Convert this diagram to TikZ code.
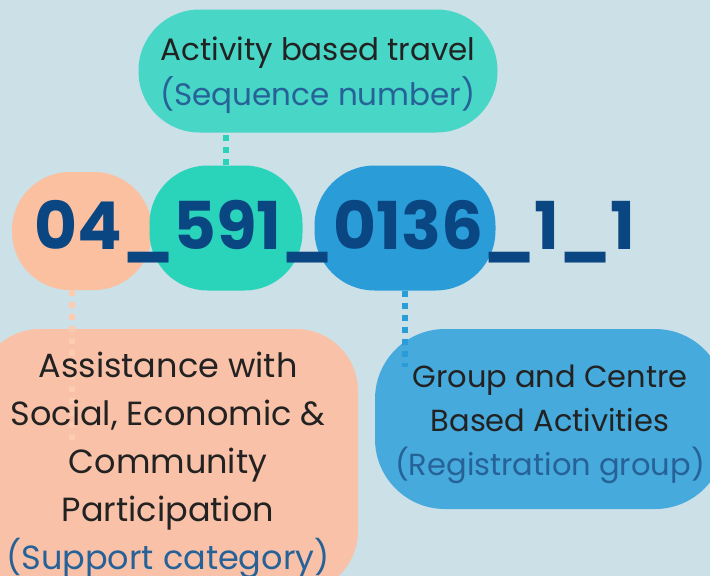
\documentclass[tikz,border=0pt]{standalone}
\usepackage{fontspec}
\setmainfont{Poppins}
\usepackage{xcolor}
\usetikzlibrary{positioning}
\definecolor{bgblue}{RGB}{204,224,232}
\definecolor{seqteal}{RGB}{72,214,198}
\definecolor{numteal}{RGB}{42,212,186}
\definecolor{catpeach}{RGB}{251,192,160}
\definecolor{catbox}{RGB}{249,194,168}
\definecolor{catdot}{RGB}{253,203,176}
\definecolor{regblue}{RGB}{42,157,216}
\definecolor{regbox}{RGB}{70,170,220}
\definecolor{navy}{RGB}{10,70,130}
\definecolor{inkdark}{RGB}{34,34,34}
\definecolor{parblue}{RGB}{38,98,152}

\begin{document}
\begin{tikzpicture}[x=1pt,y=-1pt,
		blob/.style={rectangle,inner sep=0pt},
		lbl/.style={align=center,text=inkdark,font=\fontsize{31}{45}\selectfont},
		dots/.style={line width=6pt,dash pattern=on 6pt off 6pt}]
	\useasboundingbox (0,0) rectangle (710,576);
	\clip (0,0) rectangle (710,576);
	\fill[bgblue] (0,0) rectangle (710,576);

	% top label
	\node[blob,fill=seqteal,minimum width=359pt,minimum height=123pt,rounded corners=61pt] (seq) at (318,71) {};
	\node[lbl] (seqtxt) at ([yshift=-4pt]seq.center) {Activity based travel\\\textcolor{parblue}{(Sequence number)}};

	% the three parts of the number
	\node[blob,fill=catpeach,minimum width=140pt,minimum height=118pt,rounded corners=58pt] (cat) at (82,231) {};
	\node[blob,fill=numteal,minimum width=153pt,minimum height=125pt,rounded corners=58pt] (sqn) at (226,228) {};
	\node[blob,fill=regblue,minimum width=181pt,minimum height=125pt,rounded corners=60pt] (reg) at (405,228) {};
	\node[anchor=base,text=navy,font=\fontsize{66}{66}\bfseries\selectfont,inner sep=0pt] (code) at (335,249) {04\_591\_0136\_1\_1};

	\draw[dots,numteal] (sqn.north) -- (sqn.north |- seq.south);

	% bottom labels
	\node[blob,fill=catbox,minimum width=380pt,minimum height=264pt,rounded corners=62pt] (catbx) at (168,461) {};
	\node[blob,fill=regbox,minimum width=350pt,minimum height=180pt,rounded corners=70pt] (regbx) at (550,419) {};

	\coordinate (catend) at ([xshift=-10pt]cat.south |- 0,443);
	\coordinate (regend) at (reg.south |- 0,367);
	\draw[dots,catdot] ([xshift=-10pt]cat.south) -- (catend);
	\draw[dots,regblue] (reg.south) -- (regend);

	\node[lbl,font=\fontsize{33.5}{48}\selectfont] (cattxt) at ([yshift=-4pt]catbx.center) {Assistance with\\Social, Economic \&\\Community\\Participation\\\textcolor{parblue}{(Support category)}};
	\node[lbl,font=\fontsize{30.5}{44}\selectfont] (regtxt) at ([yshift=-5pt]regbx.center) {Group and Centre\\Based Activities\\\textcolor{parblue}{(Registration group)}};
\end{tikzpicture}
\end{document}
